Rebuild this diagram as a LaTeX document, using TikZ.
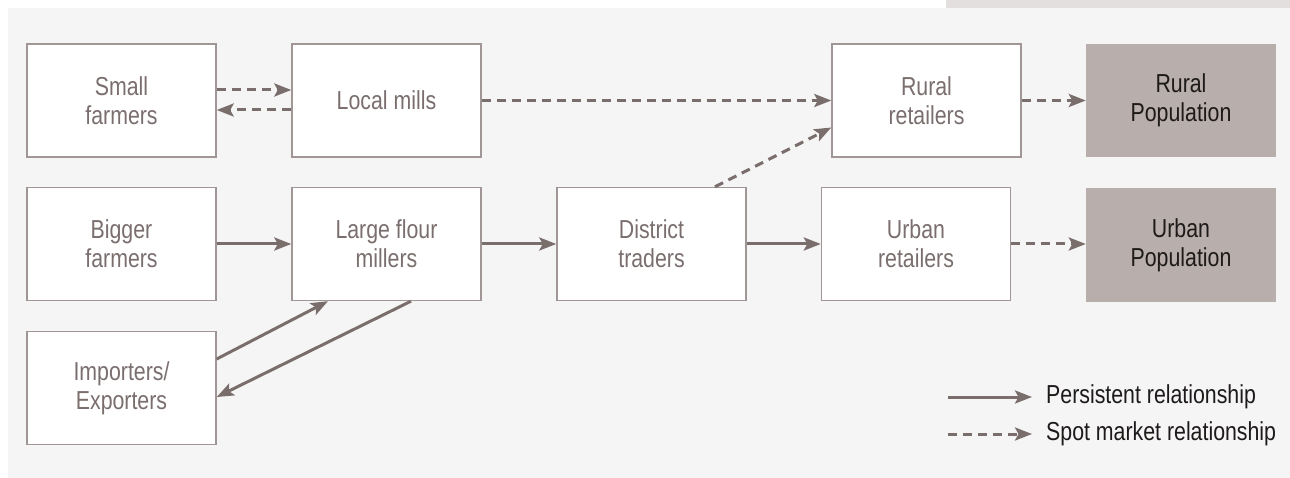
\documentclass[tikz,border=0pt]{standalone}
\usepackage{fontspec}
\setmainfont{Liberation Sans}[FakeStretch=0.82]
\usetikzlibrary{arrows.meta}
\definecolor{panel}{HTML}{F5F5F5}
\definecolor{tab}{HTML}{E3DFDF}
\definecolor{edge}{HTML}{A09696}
\definecolor{link}{HTML}{7A6E6C}
\definecolor{boxtext}{HTML}{7A6E6E}
\definecolor{popfill}{HTML}{B8AEAB}
\definecolor{poptext}{HTML}{1E1A1A}
\tikzset{
  actor/.style={draw=edge, line width=1.4pt, fill=white, minimum width=189pt,
    minimum height=113pt, inner sep=0pt, align=center, text=boxtext,
    font=\fontsize{26}{29}\selectfont},
  population/.style={fill=popfill, minimum width=190pt, minimum height=113pt,
    inner sep=0pt, align=center, text=poptext, font=\fontsize{26}{29}\selectfont},
  tip/.style={-{Stealth[length=17pt, width=13pt, inset=3.5pt]}},
  persistent/.style={tip, draw=link, line width=3pt},
  spot/.style={tip, draw=link, line width=3pt, dash pattern=on 9pt off 6pt},
  legendtext/.style={anchor=west, inner sep=0pt, text=poptext,
    font=\fontsize{26}{29}\selectfont}
}
\begin{document}
\begin{tikzpicture}[x=1pt, y=-1pt]
  \useasboundingbox (0,0) rectangle (1290,478);
  % background panel and header tab
  \fill[panel] (8,8) rectangle (1290,478);
  \fill[tab] (946,0) rectangle (1290,8);

  % market actors
  \node[actor] (sf) at (121.5,100.5) {Small\\farmers};
  \node[actor] (lm) at (386.5,100.5) {Local mills};
  \node[actor] (rr) at (926.5,100.5) {Rural\\retailers};
  \node[population] (rp) at (1181,100.5) {Rural\\Population};

  \node[actor] (bf) at (121.5,244) {Bigger\\farmers};
  \node[actor] (lf) at (386.5,244) {Large flour\\millers};
  \node[actor] (dt) at (651.5,244) {District\\traders};
  \node[actor] (ur) at (916,244) {Urban\\retailers};
  \node[population] (up) at (1181,245) {Urban\\Population};

  \node[actor] (ie) at (121.5,388) {Importers/\\Exporters};

  % spot market links
  \draw[spot] ([yshift=10.5pt]sf.east) -- ([yshift=10.5pt]lm.west);
  \draw[spot] ([yshift=-9.5pt]lm.west) -- ([yshift=-9.5pt]sf.east);
  \draw[spot] (lm.east) -- (rr.west);
  \draw[spot] (rr.east) -- (rp.west);
  \draw[spot] ([xshift=63.5pt]dt.north) -- ([yshift=-27pt]rr.west);
  \draw[spot] (ur.east) -- (up.west |- ur.east);

  % persistent links
  \draw[persistent] (bf.east) -- (lf.west);
  \draw[persistent] (lf.east) -- (dt.west);
  \draw[persistent] (dt.east) -- (ur.west);
  \draw[persistent] ([yshift=29pt]ie.east) -- ([xshift=-58.5pt]lf.south);
  \draw[persistent] ([xshift=24.5pt]lf.south) -- ([yshift=-9pt]ie.east);

  % legend
  \coordinate (ps) at (948,397);
  \coordinate (pe) at (1032,397);
  \coordinate (ss) at (948,434);
  \coordinate (se) at (1032,434);
  \draw[persistent] (ps) -- (pe);
  \draw[spot] (ss) -- (se);
  \node[legendtext] (pl) at (1046,397) {Persistent relationship};
  \node[legendtext] (sl) at (1046,434) {Spot market relationship};
\end{tikzpicture}
\end{document}
